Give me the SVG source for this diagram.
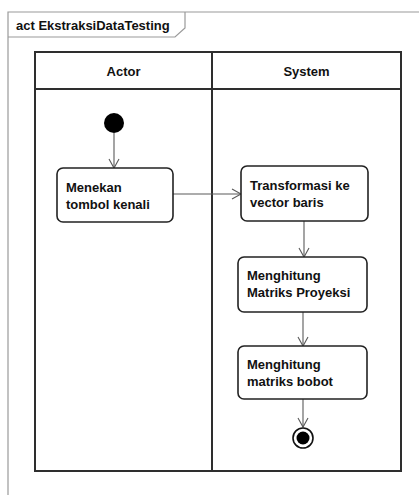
<svg xmlns="http://www.w3.org/2000/svg" width="419" height="495" viewBox="0 0 419 495">
  <style>
    .frame { fill: none; stroke: #9a9a9a; stroke-width: 1.2; }
    .lane { fill: none; stroke: #2e2e2e; stroke-width: 2; }
    .action { fill: #ffffff; stroke: #222222; stroke-width: 1.6; }
    .flow { fill: none; stroke: #5a5a5a; stroke-width: 1.1; }
    .label { font-family: "Liberation Sans", Arial, sans-serif; font-weight: bold; font-size: 13px; fill: #111111; }
    .center { text-anchor: middle; }
  </style>
  <defs>
    <marker id="open" markerWidth="12" markerHeight="12" refX="10" refY="6" orient="auto" markerUnits="userSpaceOnUse">
      <path d="M1,1 L10,6 L1,11" fill="none" stroke="#5a5a5a" stroke-width="1.1"/>
    </marker>
  </defs>

  <rect width="419" height="495" fill="#ffffff"/>

  <!-- Diagram frame with name tab -->
  <g id="frame">
    <path class="frame" d="M8,495 L8,12 L419,12"/>
    <path class="frame" d="M8,37 L175,37 L185,28 L185,12"/>
    <text class="label" x="16" y="30">act EkstraksiDataTesting</text>
  </g>

  <!-- Swimlanes -->
  <g id="lanes">
    <rect class="lane" x="35" y="52" width="366" height="419"/>
    <line class="lane" x1="35" y1="89" x2="401" y2="89"/>
    <line class="lane" x1="212" y1="52" x2="212" y2="471"/>
    <text class="label center" x="123.5" y="76">Actor</text>
    <text class="label center" x="306.5" y="76">System</text>
  </g>

  <!-- Connectors -->
  <g id="connectors">
    <line class="flow" x1="114" y1="133" x2="114" y2="168" marker-end="url(#open)"/>
    <line class="flow" x1="173" y1="194" x2="241" y2="194" marker-end="url(#open)"/>
    <line class="flow" x1="304" y1="221" x2="304" y2="257" marker-end="url(#open)"/>
    <line class="flow" x1="303" y1="312" x2="303" y2="346" marker-end="url(#open)"/>
    <line class="flow" x1="303" y1="399" x2="303" y2="427" marker-end="url(#open)"/>
  </g>

  <g id="start">
    <circle cx="114" cy="123" r="10" fill="#000000"/>
  </g>

  <g id="menekan">
    <rect class="action" x="57" y="168" width="116" height="54" rx="6"/>
    <text class="label" x="66" y="192">Menekan</text>
    <text class="label" x="66" y="209">tombol kenali</text>
  </g>

  <g id="transformasi">
    <rect class="action" x="241" y="166" width="127" height="55" rx="6"/>
    <text class="label" x="250" y="190">Transformasi ke</text>
    <text class="label" x="250" y="207">vector baris</text>
  </g>

  <g id="proyeksi">
    <rect class="action" x="238" y="257" width="129" height="55" rx="6"/>
    <text class="label" x="247" y="280">Menghitung</text>
    <text class="label" x="247" y="297">Matriks Proyeksi</text>
  </g>

  <g id="bobot">
    <rect class="action" x="238" y="346" width="129" height="53" rx="6"/>
    <text class="label" x="247" y="369">Menghitung</text>
    <text class="label" x="247" y="386">matriks bobot</text>
  </g>

  <g id="end">
    <circle cx="303" cy="438" r="10" fill="#ffffff" stroke="#111111" stroke-width="1.6"/>
    <circle cx="303" cy="438" r="6.5" fill="#000000"/>
  </g>
</svg>
